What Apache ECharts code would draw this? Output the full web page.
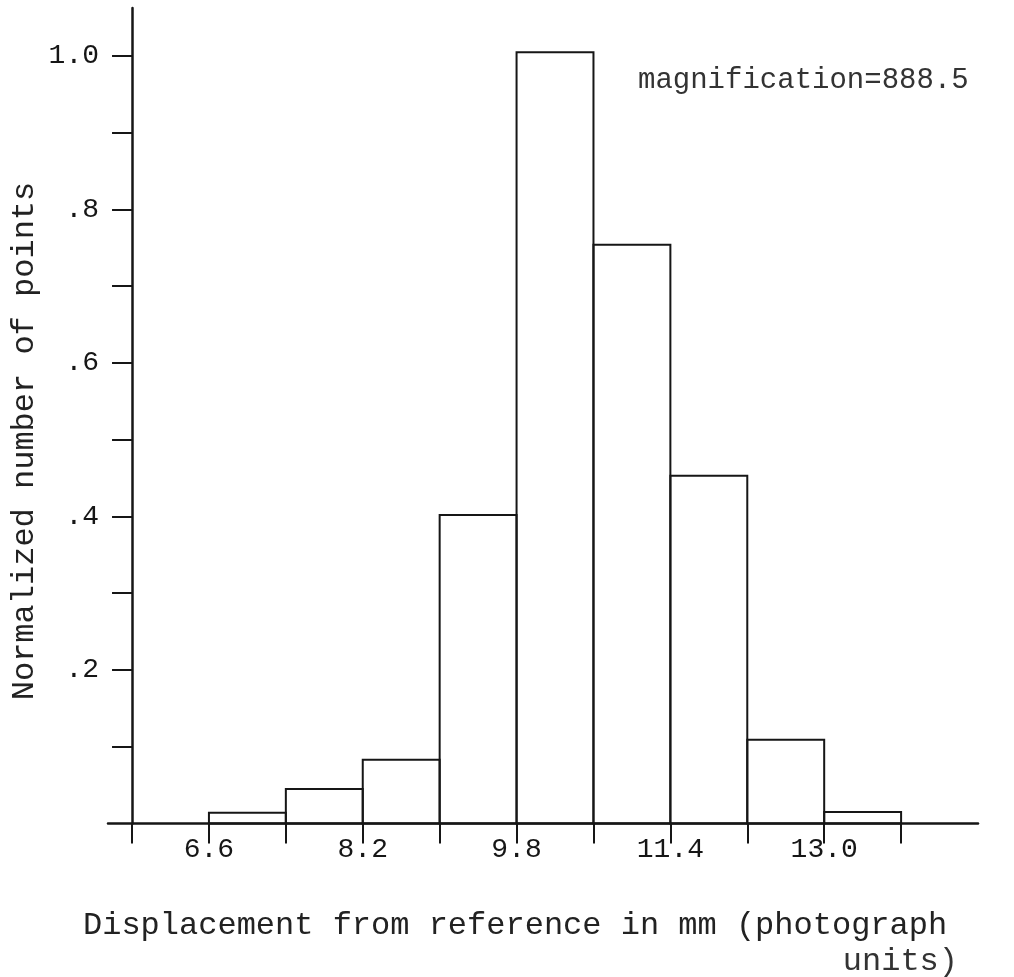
<!DOCTYPE html>
<html>
<head>
<meta charset="utf-8">
<script src="https://cdn.jsdelivr.net/npm/echarts@6/dist/echarts.min.js"></script>
<style>
  html, body { margin: 0; padding: 0; background: #fff; }
  #chart { width: 1014px; height: 977px; }
</style>
</head>
<body>
<div id="chart"></div>
<script>
// Histogram bins (mm, photograph units) and normalized counts
const binStarts = [6.6, 7.4, 8.2, 9.0, 9.8, 10.6, 11.4, 12.2, 13.0];
const binEnds   = [7.4, 8.2, 9.0, 9.8, 10.6, 11.4, 12.2, 13.0, 13.8];
const counts    = [0.014, 0.045, 0.083, 0.402, 1.005, 0.754, 0.453, 0.109, 0.015];

// Axis ticks and labels
const xTickValues  = [5.8, 6.6, 7.4, 8.2, 9.0, 9.8, 10.6, 11.4, 12.2, 13.0, 13.8];
const xLabelValues = [6.6, 8.2, 9.8, 11.4, 13.0];
const yTickValues  = [0.1, 0.2, 0.3, 0.4, 0.5, 0.6, 0.7, 0.8, 0.9, 1.0];
const yLabelValues = [0.2, 0.4, 0.6, 0.8, 1.0];
const yLabelText   = ['.2', '.4', '.6', '.8', '1.0'];

const xTitle = 'Displacement from reference in mm (photograph';
const xTitle2 = 'units)';
const yTitle = 'Normalized number of points';
const note = 'magnification=888.5';

const X_MIN = 5.55, X_MAX = 14.6, Y_MIN = 0, Y_MAX = 1.0625;
const Y_AXIS_AT = 5.8;   // the vertical axis crosses the horizontal one here

const INK = '#161616';
const FONT = '"Liberation Mono", "DejaVu Sans Mono", monospace';

const grid = { left: 108, right: 36, top: 8, bottom: 153.5 };
const gridWidth = 1014 - grid.left - grid.right;
const yAxisOffset = -(Y_AXIS_AT - X_MIN) / (X_MAX - X_MIN) * gridWidth;

const data = binStarts.map((s, i) => [s, binEnds[i], counts[i]]);

const chart = echarts.init(document.getElementById('chart'), null, { renderer: 'canvas' });
chart.setOption({
  backgroundColor: '#fff',
  animation: false,
  grid: Object.assign({ containLabel: false, outerBoundsMode: 'none' }, grid),
  xAxis: {
    type: 'value',
    min: X_MIN,
    max: X_MAX,
    splitLine: { show: false },
    axisLine: { show: true, onZero: false, lineStyle: { color: INK, width: 2.5 } },
    axisTick: { show: true, customValues: xTickValues, length: 20, lineStyle: { color: INK, width: 2 } },
    axisLabel: {
      show: true,
      customValues: xLabelValues,
      formatter: v => v.toFixed(1),
      margin: 12,
      color: INK,
      fontFamily: FONT,
      fontSize: 28
    }
  },
  yAxis: {
    type: 'value',
    min: Y_MIN,
    max: Y_MAX,
    offset: yAxisOffset,
    splitLine: { show: false },
    axisLine: { show: true, onZero: false, lineStyle: { color: INK, width: 2.5 } },
    axisTick: { show: true, customValues: yTickValues, length: 20, lineStyle: { color: INK, width: 2 } },
    axisLabel: {
      show: true,
      customValues: yLabelValues,
      formatter: v => {
        const i = yLabelValues.findIndex(t => Math.abs(t - v) < 1e-6);
        return i >= 0 ? yLabelText[i] : '';
      },
      margin: 33,
      color: INK,
      fontFamily: FONT,
      fontSize: 28
    }
  },
  series: [{
    type: 'custom',
    data: data,
    encode: { x: [0, 1], y: 2 },
    renderItem: (params, api) => {
      const p0 = api.coord([api.value(0), api.value(2)]);
      const p1 = api.coord([api.value(1), 0]);
      return {
        type: 'rect',
        shape: { x: p0[0], y: p0[1], width: p1[0] - p0[0], height: p1[1] - p0[1] },
        style: { fill: 'none', stroke: INK, lineWidth: 2 }
      };
    }
  }],
  graphic: [
    {
      type: 'text', x: 638, y: 80,
      style: { text: note, fill: '#333', font: '29px ' + FONT,
               textAlign: 'left', textVerticalAlign: 'middle', align: 'left', verticalAlign: 'middle' }
    },
    {
      type: 'text', x: 25, y: 441, rotation: Math.PI / 2,
      style: { text: yTitle, fill: '#222', font: '32px ' + FONT,
               textAlign: 'center', textVerticalAlign: 'middle', align: 'center', verticalAlign: 'middle' }
    },
    {
      type: 'text', x: 83, y: 926,
      style: { text: xTitle, fill: '#222', font: '32px ' + FONT,
               textAlign: 'left', textVerticalAlign: 'middle', align: 'left', verticalAlign: 'middle' }
    },
    {
      type: 'text', x: 958, y: 962,
      style: { text: xTitle2, fill: '#333', font: '32px ' + FONT,
               textAlign: 'right', textVerticalAlign: 'middle', align: 'right', verticalAlign: 'middle' }
    }
  ]
});
</script>
</body>
</html>
